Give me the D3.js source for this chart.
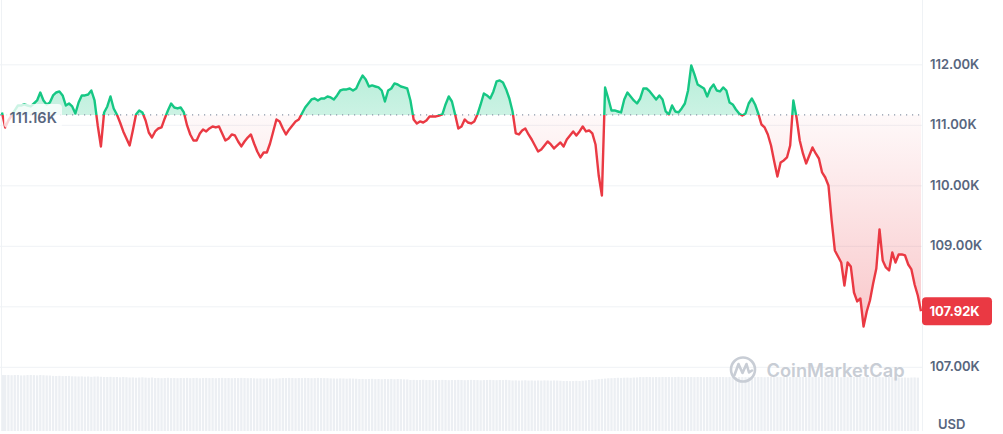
<!DOCTYPE html>
<html><head><meta charset="utf-8">
<script src="https://cdn.jsdelivr.net/npm/d3@7"></script>
<style>
html,body{margin:0;padding:0;background:#fff;}
svg{display:block;font-family:Inter,"Noto Sans",sans-serif;}
</style></head><body>
<svg id="chart" width="1003" height="434"></svg>
<script>
// ---- data (BTC price, 5-minute steps over 24h) ----
const prices = [
111204,110956,111071,111154,111237,111319,111319,111336,111319,111303,
111352,111402,111534,111402,111336,111369,111485,111534,111551,111485,
111319,111352,111303,111187,111369,111485,111485,111501,111567,111402,
110989,110642,111204,111303,111468,111270,111171,111038,110890,110774,
110658,110906,111171,111237,111204,111071,110873,110790,110890,110939,
110956,111105,111237,111352,111286,111270,111286,111204,110989,110840,
110741,110741,110857,110923,110890,110939,110972,110956,110972,110857,
110741,110774,110840,110824,110724,110642,110724,110790,110840,110691,
110559,110460,110542,110542,110691,110890,111088,111055,110939,110840,
110923,110989,111055,111088,111187,111286,111352,111419,111435,111402,
111435,111435,111468,111452,111419,111485,111567,111584,111584,111600,
111567,111600,111716,111815,111749,111633,111650,111633,111617,111567,
111385,111567,111600,111683,111666,111633,111617,111600,111402,111088,
111022,111055,111038,111071,111138,111138,111138,111154,111171,111336,
111468,111385,111171,110939,110972,111088,111038,111022,111055,111171,
111336,111518,111485,111435,111551,111716,111733,111700,111584,111435,
111220,110857,110840,110906,110939,110840,110757,110658,110559,110592,
110658,110724,110675,110609,110658,110708,110642,110757,110824,110890,
110824,110890,110972,110890,110906,110857,110675,110162,109832,111617,
111435,111237,111237,111220,111204,111419,111534,111468,111402,111352,
111435,111600,111600,111551,111485,111419,111485,111419,111220,111171,
111319,111220,111204,111270,111352,111567,111981,111832,111666,111633,
111600,111468,111600,111666,111567,111551,111617,111567,111369,111336,
111253,111187,111154,111187,111352,111435,111336,111187,111005,110956,
110840,110658,110394,110146,110377,110410,110460,110658,111402,111121,
110741,110526,110361,110493,110625,110526,110443,110212,110129,109997,
109418,108923,108823,108724,108344,108724,108658,108228,108080,108129,
107666,107914,108096,108377,108625,109270,108757,108642,108592,108890,
108724,108857,108857,108840,108691,108609,108361,108179,107920
];
// rolling 24h volume, billions USD
const volumes = [
58.9,58.9,59.0,58.7,58.9,58.9,58.5,58.6, 58.9,59.0,58.8,58.6,58.9,58.7,58.5,58.4,
58.0,57.9,58.1,57.8,57.9,58.0,57.6,57.5, 57.4,57.5,57.2,57.4,57.0,57.3,57.4,57.1,
56.8,56.9,57.0,56.7,56.8,56.5,56.9,56.6, 56.3,56.4,56.1,56.3,56.5,56.2,56.0,56.3,
55.8,55.9,55.6,55.8,56.0,55.7,55.8,55.6, 55.8,55.7,55.9,55.6,55.8,55.9,55.5,55.8,
55.9,55.7,55.8,55.6,55.8,55.9,55.7,55.8, 55.6,55.8,55.7,55.9,55.8,55.6,55.7,55.5,
55.3,55.4,55.2,55.4,55.3,55.1,55.3,55.5, 55.8,55.7,55.9,55.8,55.6,55.8,55.7,55.9,
55.8,55.6,55.7,55.9,55.8,55.7,55.6,55.4, 55.3,55.2,55.4,55.3,55.1,55.3,55.2,55.0,
54.7,54.8,54.6,54.7,54.9,54.6,54.7,54.5, 54.7,54.6,54.8,54.5,54.7,54.6,54.4,54.3,
53.7,53.8,53.6,53.7,53.9,53.6,53.7,53.5, 53.7,53.6,53.8,53.7,53.5,53.7,53.6,53.8,
53.7,53.5,53.6,53.8,53.7,53.6,53.4,53.6, 53.7,53.8,53.6,53.5,53.7,53.6,53.8,53.5,
53.2,53.3,53.1,53.2,53.4,53.1,53.2,53.0, 53.2,53.1,53.3,53.2,53.0,53.2,53.1,52.9,
52.6,52.7,52.5,52.6,52.8,52.6,52.9,53.2, 53.7,53.9,54.2,54.6,54.9,55.2,55.5,55.6,
55.8,56.0,55.9,56.1,56.2,56.0,56.3,56.4, 56.8,56.7,56.9,56.8,56.6,56.8,56.7,56.9,
56.8,56.9,56.7,56.8,57.0,56.8,56.7,56.9, 56.8,56.7,56.9,56.8,56.6,56.8,56.9,56.7,
56.8,56.9,56.8,56.7,56.9,56.8,56.6,56.8, 56.8,56.7,56.9,56.8,56.7,56.9,56.8,56.6,
56.8,56.9,56.7,56.8,56.9,56.7,56.8,56.9, 56.8,56.7,56.9,56.8,56.6,56.8,56.7,56.9,
56.8,56.9,56.7,56.8,56.9,56.7,56.8,56.6, 56.8,56.7,56.9,56.8,56.7,56.9,56.8,56.7,
56.8,56.9,56.7,56.8,56.6,56.8,56.9,56.7, 56.3,56.4,56.2,56.3,56.1,56.3,56.4,56.2
];
const yTicks = [107000, 108000, 109000, 110000, 111000, 112000];
const openPrice = 111164;
const intervalMinutes = 5;
const startTime = new Date(2025, 6, 4, 0, 0);
const currency = "USD";
const brand = "CoinMarketCap";

// ---- layout ----
const W = 1003, H = 434;
const plotLeft = 2, plotRight = 921, frameRight = 922, plotBottom = 431;
const green = "#16c784", red = "#ea3943", axisGray = "#58667e";

const svg = d3.select("#chart");
const times = prices.map((_, i) => new Date(+startTime + i * intervalMinutes * 60000));
const data = prices.map((v, i) => ({t: times[i], v, vol: volumes[i]}));

const x = d3.scaleTime().domain([times[0], times[times.length - 1]]).range([plotLeft, plotRight]);
const y = d3.scaleLinear().domain([107000, 112000]).range([366.8, 64.3]);
const yVol = d3.scaleLinear().domain([0, 60]).range([plotBottom, 374]);
const fmtK = d => (d / 1000).toFixed(2) + "K";
const yBase = y(openPrice);
const last = prices[prices.length - 1];
const yl = y(last);

// defs
const defs = svg.append("defs");
defs.append("clipPath").attr("id", "clipAbove").append("rect")
  .attr("x", 0).attr("y", 0).attr("width", frameRight).attr("height", yBase);
defs.append("clipPath").attr("id", "clipBelow").append("rect")
  .attr("x", 0).attr("y", yBase).attr("width", frameRight).attr("height", H - yBase);
const gGreen = defs.append("linearGradient").attr("id", "gGreen")
  .attr("gradientUnits", "userSpaceOnUse").attr("x1", 0).attr("x2", 0)
  .attr("y1", y(d3.max(prices))).attr("y2", yBase);
gGreen.append("stop").attr("offset", 0).attr("stop-color", green).attr("stop-opacity", 0.32);
gGreen.append("stop").attr("offset", 1).attr("stop-color", green).attr("stop-opacity", 0.22);
const gRed = defs.append("linearGradient").attr("id", "gRed")
  .attr("gradientUnits", "userSpaceOnUse").attr("x1", 0).attr("x2", 0)
  .attr("y1", yBase).attr("y2", y(d3.min(prices)));
gRed.append("stop").attr("offset", 0).attr("stop-color", red).attr("stop-opacity", 0.03);
gRed.append("stop").attr("offset", 1).attr("stop-color", red).attr("stop-opacity", 0.28);

// volume bars
const bw = (x(times[1]) - x(times[0])) * 0.72;
svg.append("g").selectAll("rect").data(data).join("rect")
  .attr("x", d => Math.max(plotLeft, x(d.t) - bw / 2))
  .attr("width", bw)
  .attr("y", d => yVol(d.vol))
  .attr("height", d => plotBottom - yVol(d.vol))
  .attr("fill", "#eceff3");

// grid
const grid = d3.axisRight(y).tickValues(yTicks).tickSize(frameRight).tickFormat("");
svg.append("g").call(grid).call(g => g.select(".domain").remove())
  .selectAll("line").attr("stroke", "#eff2f5").attr("stroke-width", 1);

// frame lines
svg.append("line").attr("x1", frameRight + 0.5).attr("x2", frameRight + 0.5).attr("y1", 0).attr("y2", plotBottom)
  .attr("stroke", "#eff2f5");
svg.append("line").attr("x1", 1.5).attr("x2", 1.5).attr("y1", 0).attr("y2", plotBottom)
  .attr("stroke", "#eff2f5");

// watermark
const wm = svg.append("g");
wm.append("circle").attr("cx", 743).attr("cy", 369.5).attr("r", 12)
  .attr("fill", "none").attr("stroke", "#c8cdd5").attr("stroke-width", 2.6);
wm.append("path").attr("d", "M734.5,375 L738.5,364 L742.5,373 L746.5,364 L749,372.5 L752,370.5")
  .attr("fill", "none").attr("stroke", "#c8cdd5").attr("stroke-width", 2.6)
  .attr("stroke-linejoin", "round").attr("stroke-linecap", "round");
wm.append("text").attr("x", 766.5).attr("y", 377).text(brand)
  .attr("font-size", 18.3).attr("font-weight", 600).attr("fill", "#c8cdd5");

// areas
const area = d3.area().x(d => x(d.t)).y0(yBase).y1(d => y(d.v));
svg.append("path").datum(data).attr("d", area).attr("fill", "url(#gGreen)").attr("clip-path", "url(#clipAbove)");
svg.append("path").datum(data).attr("d", area).attr("fill", "url(#gRed)").attr("clip-path", "url(#clipBelow)");

// baseline dotted
svg.append("line").attr("x1", 0).attr("x2", frameRight).attr("y1", yBase).attr("y2", yBase)
  .attr("stroke", "#8c96a8").attr("stroke-width", 1.2).attr("stroke-dasharray", "1.2 4.8");

// lines
const line = d3.line().x(d => x(d.t)).y(d => y(d.v));
svg.append("path").datum(data).attr("d", line).attr("fill", "none").attr("stroke", green)
  .attr("stroke-width", 2.4).attr("stroke-linejoin", "round").attr("clip-path", "url(#clipAbove)");
svg.append("path").datum(data).attr("d", line).attr("fill", "none").attr("stroke", red)
  .attr("stroke-width", 2.4).attr("stroke-linejoin", "round").attr("clip-path", "url(#clipBelow)");

// open price label
svg.append("rect").attr("x", 4).attr("y", 104).attr("width", 58).attr("height", 24).attr("rx", 4)
  .attr("fill", "#fff").attr("fill-opacity", 0.78);
svg.append("text").attr("x", 9.5).attr("y", 117).attr("dominant-baseline", "central")
  .attr("font-size", 14.5).attr("font-weight", 600).attr("fill", axisGray).text(fmtK(openPrice));

// y axis labels (the one hidden by the last-price badge is left out)
const shownTicks = yTicks.filter(t => Math.abs(y(t) - yl) > 16);
const yAxis = d3.axisRight(y).tickValues(shownTicks).tickSize(0).tickPadding(0).tickFormat(fmtK);
svg.append("g").attr("transform", `translate(930,0)`).call(yAxis)
  .call(g => g.select(".domain").remove())
  .selectAll("text").attr("font-size", 13).attr("font-weight", 600).attr("fill", axisGray)
  .attr("font-family", "Inter, 'Noto Sans', sans-serif");

// last price badge
svg.append("rect").attr("x", frameRight).attr("y", yl - 14).attr("width", 70).attr("height", 28)
  .attr("rx", 4).attr("fill", red);
svg.append("text").attr("x", 929.5).attr("y", yl).attr("dominant-baseline", "central")
  .attr("font-size", 13).attr("font-weight", 700).attr("fill", "#fff").text(fmtK(last));

// currency
svg.append("text").attr("x", 938).attr("y", 424).attr("dominant-baseline", "central")
  .attr("font-size", 13).attr("font-weight", 600).attr("fill", axisGray).text(currency);
</script>
</body></html>
